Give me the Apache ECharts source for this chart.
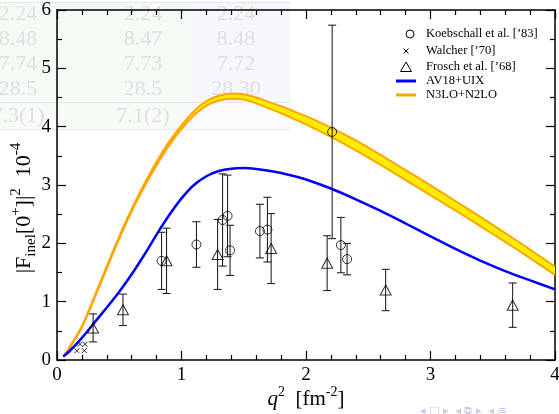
<!DOCTYPE html>
<html>
<head>
<meta charset="utf-8">
<script src="https://cdn.jsdelivr.net/npm/echarts@6/dist/echarts.min.js"></script>
<style>
html,body{margin:0;padding:0;background:#fff}
#chart{width:559px;height:414px}
</style>
</head>
<body>
<div id="chart"></div>
<script>
// theory curves
var curveX = [0.05,0.1,0.2,0.3,0.4,0.5,0.6,0.7,0.8,0.9,1.0,1.1,1.2,1.3,1.4,1.5,1.6,1.7,1.8,1.9,2.0,2.2,2.4,2.6,2.8,3.0,3.2,3.4,3.6,3.8,4.0];
var av18 = [0.06,0.15,0.38,0.64,0.90,1.17,1.47,1.80,2.15,2.48,2.77,3.00,3.15,3.24,3.28,3.29,3.275,3.245,3.205,3.155,3.095,2.94,2.755,2.555,2.34,2.12,1.905,1.705,1.525,1.365,1.21];
var n3loLow = [0.055,0.20,0.56,1.055,1.57,2.08,2.55,2.965,3.34,3.68,3.96,4.195,4.36,4.45,4.48,4.465,4.40,4.315,4.23,4.135,4.04,3.825,3.595,3.345,3.085,2.825,2.565,2.295,2.025,1.745,1.46];
var n3loHigh = [0.065,0.22,0.58,1.085,1.61,2.12,2.59,3.015,3.40,3.74,4.02,4.265,4.44,4.53,4.57,4.555,4.50,4.425,4.35,4.265,4.18,3.985,3.765,3.515,3.255,2.995,2.725,2.455,2.175,1.895,1.60];

// data sets
var koebX = [0.84,1.12,1.33,1.37,1.39,1.63,1.69,2.21,2.28,2.33];
var koebY = [1.70,1.98,2.40,2.47,1.88,2.21,2.235,3.91,1.97,1.73];
var koebErr = [0.49,0.39,0.79,0.70,0.43,0.46,0.555,1.83,0.475,0.27];

var walchX = [0.16,0.22,0.185,0.225];
var walchY = [0.16,0.16,0.27,0.27];

var froschX = [0.29,0.53,0.88,1.29,1.72,2.17,2.64,3.66];
var froschY = [0.55,0.86,1.70,1.81,1.91,1.66,1.20,0.94];
var froschErr = [0.24,0.27,0.56,0.60,0.60,0.47,0.355,0.38];

var legendNames = ['Koebschall et al. [\u201983]', 'Walcher [\u201970]', 'Frosch et al. [\u201968]', 'AV18+UIX', 'N3LO+N2LO'];

// faint table behind the plot (slide background)
var tableRows = [
    ['2.24','2.24','2.24'],
    ['8.48','8.47','8.48'],
    ['7.74','7.73','7.72'],
    ['28.5','28.5','28.30'],
    ['7.3(1)','7.1(2)','']
];

var serif = 'Liberation Serif';
var SMOOTH = 0.25;

function pairs(xs, ys) {
    return xs.map(function (x, i) { return [x, ys[i]]; });
}
function triples(xs, ys, es) {
    return xs.map(function (x, i) { return [x, ys[i], es[i]]; });
}

function errorBar(params, api) {
    var x = api.value(0), y = api.value(1), e = api.value(2);
    var top = api.coord([x, y + e]);
    var bot = api.coord([x, y - e]);
    var hw = 4;
    var st = {stroke: '#111', lineWidth: 1};
    return {
        type: 'group',
        children: [
            {type: 'line', shape: {x1: top[0], y1: top[1], x2: bot[0], y2: bot[1]}, style: st},
            {type: 'line', shape: {x1: top[0] - hw, y1: top[1], x2: top[0] + hw, y2: top[1]}, style: st},
            {type: 'line', shape: {x1: bot[0] - hw, y1: bot[1], x2: bot[0] + hw, y2: bot[1]}, style: st}
        ]
    };
}

// yellow band between the two N3LO+N2LO curves
function bandShape(params, api) {
    var pts = [];
    for (var i = 0; i < curveX.length; i++) pts.push(api.coord([curveX[i], n3loLow[i]]));
    for (var j = curveX.length - 1; j >= 0; j--) pts.push(api.coord([curveX[j], n3loHigh[j]]));
    return {type: 'polygon', shape: {points: pts, smooth: SMOOTH}, style: {fill: '#ffec00'}};
}

function makeAxis(pos, min, max, minorSplit, labels) {
    return {
        type: 'value', min: min, max: max, interval: 1, position: pos,
        axisLine: {show: true, onZero: false, lineStyle: {color: '#000', width: 1.5}},
        axisTick: {show: true, inside: true, length: 9, lineStyle: {color: '#000', width: 1.2}},
        minorTick: {show: true, splitNumber: minorSplit, length: 5, lineStyle: {color: '#000', width: 1.2}},
        splitLine: {show: false},
        minorSplitLine: {show: false},
        axisLabel: {show: labels, color: '#000', fontFamily: serif, fontSize: 19, margin: 6}
    };
}

// graphic: background table, axis titles, legend, nav symbols
var graphics = [
    {type: 'rect', z: -10, shape: {x: 0, y: 2, width: 189, height: 100}, style: {fill: '#f4faf4'}},
    {type: 'rect', z: -10, shape: {x: 189, y: 2, width: 101, height: 100}, style: {fill: '#f6f6fd'}},
    {type: 'rect', z: -10, shape: {x: 0, y: 102, width: 189, height: 27}, style: {fill: '#f6fbf6'}},
    {type: 'rect', z: -10, shape: {x: 189, y: 102, width: 101, height: 27}, style: {fill: '#fbfbfd'}},
    {type: 'line', z: -9, shape: {x1: 0, y1: 2.5, x2: 290, y2: 2.5}, style: {stroke: '#e6e6e6', lineWidth: 1}},
    {type: 'line', z: -9, shape: {x1: 0, y1: 102.5, x2: 290, y2: 102.5}, style: {stroke: '#e6e6e6', lineWidth: 1}},
    {type: 'line', z: -9, shape: {x1: 0, y1: 129.5, x2: 290, y2: 129.5}, style: {stroke: '#e6e6e6', lineWidth: 1}}
];
var colX = [18, 143, 236];
var rowY = [14, 39, 64, 89, 116];
tableRows.forEach(function (row, r) {
    row.forEach(function (t, c) {
        if (!t) return;
        graphics.push({
            type: 'text', z: -8, x: colX[c], y: rowY[r],
            style: {text: t, fontFamily: serif, fontSize: 22, fill: '#e0e0e0', align: 'center', verticalAlign: 'middle'}
        });
    });
});
graphics.push({
    type: 'text', x: 24, y: 208, rotation: Math.PI / 2,
    style: {
        text: '|F{sub|inel}[0{sup|+}]|{sup|2}  10{sup|-4}',
        fontFamily: serif, fontSize: 22, lineHeight: 30, fill: '#000',
        align: 'center', verticalAlign: 'middle',
        rich: {
            sup: {fontFamily: serif, fontSize: 15, lineHeight: 15, verticalAlign: 'top', fill: '#000'},
            sub: {fontFamily: serif, fontSize: 15, lineHeight: 15, verticalAlign: 'bottom', fill: '#000'}
        }
    }
});
graphics.push({
    type: 'text', x: 306, y: 399,
    style: {
        text: '{i|q}{sup|2}  [fm{sup|-2}]',
        fontFamily: serif, fontSize: 21, lineHeight: 28, fill: '#000',
        align: 'center', verticalAlign: 'middle',
        rich: {
            i: {fontFamily: serif, fontStyle: 'italic', fontSize: 21, fill: '#000'},
            sup: {fontFamily: serif, fontSize: 14, lineHeight: 14, verticalAlign: 'top', fill: '#000'}
        }
    }
});

// legend
var legY = [34, 51, 67, 81, 95];
var ink = {fill: 'none', stroke: '#000', lineWidth: 1};
graphics.push({type: 'circle', shape: {cx: 410, cy: legY[0], r: 4}, style: ink});
graphics.push({type: 'line', shape: {x1: 403.5, y1: legY[1] - 2.5, x2: 408.5, y2: legY[1] + 2.5}, style: ink});
graphics.push({type: 'line', shape: {x1: 408.5, y1: legY[1] - 2.5, x2: 403.5, y2: legY[1] + 2.5}, style: ink});
graphics.push({type: 'polygon', shape: {points: [[400.5, legY[2] + 4.5], [411.5, legY[2] + 4.5], [406, legY[2] - 5]]}, style: ink});
graphics.push({type: 'line', shape: {x1: 396, y1: legY[3], x2: 416, y2: legY[3]}, style: {stroke: '#0000ff', lineWidth: 3}});
graphics.push({type: 'line', shape: {x1: 396, y1: legY[4], x2: 416, y2: legY[4]}, style: {stroke: '#ffa500', lineWidth: 3}});
legendNames.forEach(function (n, i) {
    graphics.push({
        type: 'text', x: 426, y: legY[i],
        style: {text: n, fontFamily: serif, fontSize: 12.5, fill: '#000', align: 'left', verticalAlign: 'middle'}
    });
});

graphics.push({
    type: 'text', x: 420, y: 406,
    style: {text: '\u25C2 \u25A1 \u25B8  \u25C2 \u29C9 \u25B8  \u25C2 \u2261', fontFamily: 'DejaVu Sans', fontSize: 11, fill: '#c6c9e8'}
});

var hollow = {color: 'rgba(0,0,0,0)', borderColor: '#000', borderWidth: 1};

var chart = echarts.init(document.getElementById('chart'));
var option = {
    animation: false,
    backgroundColor: 'transparent',
    grid: {left: 57, right: 4, top: 10, bottom: 54, outerBoundsMode: 'none'},
    xAxis: [makeAxis('bottom', 0, 4, 5, true), makeAxis('top', 0, 4, 5, false)],
    yAxis: [makeAxis('left', 0, 6, 2, true), makeAxis('right', 0, 6, 2, false)],
    graphic: graphics,
    series: [
        {
            name: 'band', type: 'custom', renderItem: bandShape, clip: true,
            data: [[curveX[0], n3loLow[0]]], encode: {x: 0, y: 1}, silent: true, z: 2
        },
        {
            name: legendNames[4], type: 'line', data: pairs(curveX, n3loLow),
            symbol: 'none', smooth: SMOOTH, color: '#ffa500', lineStyle: {width: 2, color: '#ffa500'}, z: 3
        },
        {
            name: legendNames[4], type: 'line', data: pairs(curveX, n3loHigh),
            symbol: 'none', smooth: SMOOTH, color: '#ffa500', lineStyle: {width: 2, color: '#ffa500'}, z: 3
        },
        {
            name: legendNames[3], type: 'line', data: pairs(curveX, av18),
            symbol: 'none', smooth: SMOOTH, color: '#0000ff', lineStyle: {width: 2.5, color: '#0000ff'}, z: 3
        },
        {
            name: 'koeb-err', type: 'custom', renderItem: errorBar,
            data: triples(koebX, koebY, koebErr), encode: {x: 0, y: 1}, z: 4, silent: true
        },
        {
            name: 'frosch-err', type: 'custom', renderItem: errorBar,
            data: triples(froschX, froschY, froschErr), encode: {x: 0, y: 1}, z: 4, silent: true
        },
        {
            name: legendNames[0], type: 'scatter', data: pairs(koebX, koebY),
            symbol: 'circle', symbolSize: 9, itemStyle: hollow, z: 5
        },
        {
            name: legendNames[1], type: 'scatter', data: pairs(walchX, walchY),
            symbol: 'path://M0,0L10,10M10,0L0,10', symbolSize: 5, itemStyle: hollow, z: 5
        },
        {
            name: legendNames[2], type: 'scatter', data: pairs(froschX, froschY),
            symbol: 'triangle', symbolSize: [11, 10], itemStyle: hollow, z: 5
        }
    ]
};
chart.setOption(option);
window.onresize = chart.resize;
</script>
</body>
</html>
